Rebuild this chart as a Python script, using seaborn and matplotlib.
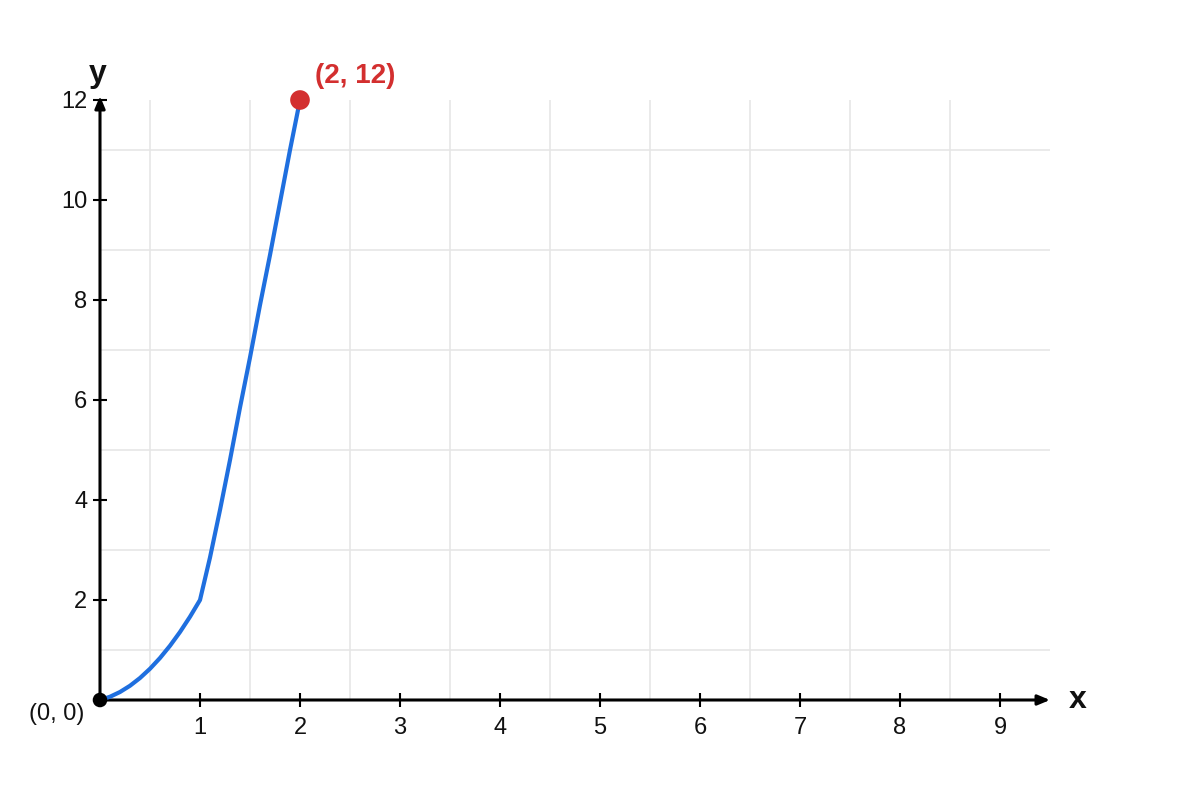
import numpy as np
import pandas as pd
import matplotlib
matplotlib.use("Agg")
import matplotlib.pyplot as plt
import seaborn as sns

# ---- data ----
curve_x = [0.0, 0.1, 0.2, 0.3, 0.4, 0.5, 0.6, 0.7, 0.8, 0.9, 1.0,
           1.1, 1.2, 1.3, 1.4, 1.5, 1.6, 1.7, 1.8, 1.9, 2.0]
curve_y = [0.0, 0.065, 0.16, 0.285, 0.44, 0.625, 0.84, 1.085, 1.36, 1.665, 2.0,
           2.85, 3.8, 4.8, 5.85, 6.85, 7.9, 8.9, 9.95, 11.0, 12.0]
start_pt = (0, 0)
end_pt = (2, 12)
start_label = "(0, 0)"
end_label = "(2, 12)"
x_ticks = [1, 2, 3, 4, 5, 6, 7, 8, 9]
y_ticks = [2, 4, 6, 8, 10, 12]
x_grid = [0.5, 1.5, 2.5, 3.5, 4.5, 5.5, 6.5, 7.5, 8.5]
y_grid = [1, 3, 5, 7, 9, 11]

sns.set_theme(style="white")
plt.rcParams["font.family"] = ["Liberation Sans", "DejaVu Sans"]

fig = plt.figure(figsize=(12, 8), dpi=100)
ax = fig.add_axes([100 / 1200, 100 / 800, 950 / 1200, 600 / 800])
ax.set_xlim(0, 9.5)
ax.set_ylim(0, 12)

# grid on minor ticks
ax.set_xticks(x_grid, minor=True)
ax.set_yticks(y_grid, minor=True)
ax.grid(False)
ax.grid(which="minor", color="#e6e6e6", linewidth=1.2)
ax.tick_params(which="minor", length=0)

for s in ax.spines.values():
    s.set_visible(False)

df = pd.DataFrame({"x": curve_x, "y": curve_y})
sns.lineplot(data=df, x="x", y="y", sort=False, color="#1f6fdf", linewidth=3, ax=ax,
             zorder=4, clip_on=False)

# axes arrows
ax.annotate("", xy=(9.5, 0), xytext=(0, 0), xycoords="data",
            arrowprops=dict(arrowstyle="-|>,head_length=0.6,head_width=0.25", color="black",
                            lw=2.2, shrinkA=0, shrinkB=0), annotation_clip=False, zorder=3)
ax.annotate("", xy=(0, 12.08), xytext=(0, 0), xycoords="data",
            arrowprops=dict(arrowstyle="-|>,head_length=0.6,head_width=0.25", color="black",
                            lw=2.2, shrinkA=0, shrinkB=0), annotation_clip=False, zorder=3)

ax.set_xticks(x_ticks)
ax.set_xticklabels([str(t) for t in x_ticks])
ax.set_yticks(y_ticks)
ax.set_yticklabels([str(t) for t in y_ticks])
ax.tick_params(which="major", direction="inout", length=10.5, width=1.5, color="black",
               labelsize=17, labelcolor="#111111")
ax.tick_params(axis="x", pad=7)
ax.tick_params(axis="y", pad=4)
ax.xaxis.set_ticks_position("bottom")
ax.yaxis.set_ticks_position("left")
ax.set_xlabel("")
ax.set_ylabel("")

# points
sns.scatterplot(x=[end_pt[0]], y=[end_pt[1]], color="#d32f2f", s=200, edgecolor="none",
                ax=ax, zorder=6, clip_on=False)
sns.scatterplot(x=[start_pt[0]], y=[start_pt[1]], color="black", s=110, edgecolor="none",
                ax=ax, zorder=6, clip_on=False)

ax.annotate(end_label, xy=end_pt, xytext=(11, 17), textcoords="offset points",
            color="#d32f2f", fontsize=20, fontweight="bold", ha="left", va="center",
            annotation_clip=False)
ax.annotate(start_label, xy=start_pt, xytext=(-31, -10), textcoords="offset points",
            color="#111111", fontsize=17, ha="center", va="center", annotation_clip=False)

# axis letters
fig.text(1078 / 1200, 1 - 700 / 800, "x", fontsize=23, fontweight="bold", ha="center",
         va="center", color="#111111")
fig.text(98 / 1200, 1 - 74 / 800, "y", fontsize=23, fontweight="bold", ha="center",
         va="center", color="#111111")

fig.savefig("out.png", dpi=100, facecolor="white")
